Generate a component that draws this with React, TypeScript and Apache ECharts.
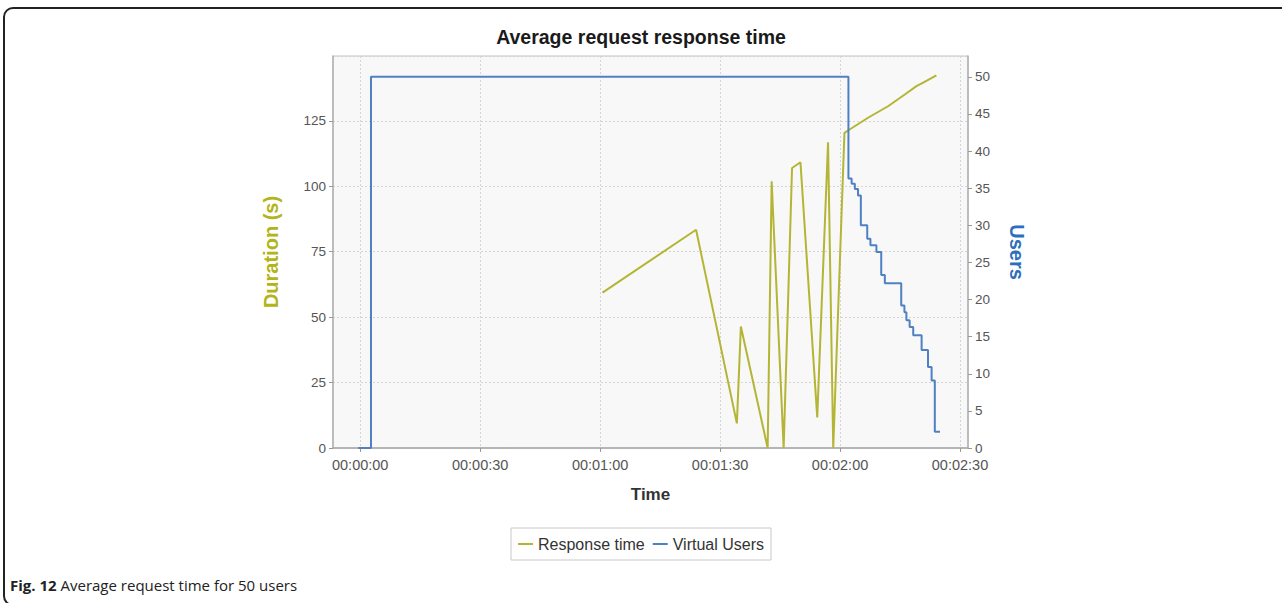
import React, { useEffect, useRef } from "react";
import * as echarts from "echarts";

// X tick positions (seconds since start)
const xTickSeconds = [0, 30, 60, 90, 120, 150];

// Response time series (time in s, duration in s)
const responseTimes = [60.6, 84.0, 94.2, 95.2, 101.9, 102.9, 105.9, 108.0, 110.1, 114.3, 117.0, 118.3, 121.1, 122.4, 127.0, 132.0, 136.2, 139.1, 140.8, 144.1];
const responseValues = [59.4, 83.4, 9.4, 46.4, 0, 101.9, 0, 107.0, 109.2, 11.7, 116.8, 0, 120.4, 121.7, 126.2, 130.6, 135.1, 138.3, 139.6, 142.4];

// Virtual users series (time of change in s, users)
const userTimes = [-0.5, 2.7, 122.1, 122.9, 123.7, 124.5, 125.2, 126.8, 127.6, 129.1, 130.3, 131.2, 135.3, 136.1, 136.6, 137.4, 138.3, 140.4, 142.0, 142.9, 143.7, 145.0];
const userValues = [0, 50, 36.3, 35.6, 34.9, 34.0, 30.0, 28.2, 27.3, 26.4, 23.3, 22.2, 19.2, 18.3, 17.2, 16.3, 15.2, 13.2, 10.9, 9.1, 2.2, 2.2];

const titleText = "Average request response time";
const captionBold = "Fig. 12";
const captionRest = " Average request time for 50 users";

const YELLOW = "#b4b535";
const BLUE = "#4f80c4";
const FONT = "Liberation Sans, Arial, sans-serif";

function pad(n: number) {
  return n < 10 ? "0" + n : String(n);
}
function fmtTime(v: number) {
  const s = Math.round(v);
  const m = Math.floor(s / 60);
  return "00:" + pad(m) + ":" + pad(s % 60);
}

export default function App() {
  const ref = useRef<HTMLDivElement | null>(null);

  useEffect(() => {
    document.body.style.margin = "0";
    document.body.style.overflow = "hidden";
    if (!ref.current) return;
    const chart = echarts.init(ref.current, null, { renderer: "svg" });
    const option: any = {
      animation: false,
      backgroundColor: "#ffffff",
      title: {
        text: titleText,
        left: "center",
        top: 27,
        padding: 0,
        textStyle: { fontSize: 19.5, fontWeight: "bold", color: "#1a1a1a", fontFamily: FONT },
      },
      legend: {
        left: "center",
        top: 528,
        data: [
          { name: "Response time", icon: "rect" },
          { name: "Virtual Users", icon: "rect" },
        ],
        itemWidth: 15,
        itemHeight: 2,
        itemGap: 8,
        padding: [8, 7],
        borderColor: "#c8c8c8",
        borderWidth: 1,
        backgroundColor: "#ffffff",
        textStyle: { fontSize: 16, color: "#333", fontFamily: FONT },
      },
      grid: {
        left: 333,
        right: 314,
        top: 56,
        bottom: 155,
        show: true,
        backgroundColor: "#f8f8f8",
        borderColor: "#c4c4c4",
        borderWidth: 1,
        outerBoundsMode: "none",
        containLabel: false,
      },
      xAxis: {
        type: "value",
        min: -6.8,
        max: 152,
        name: "Time",
        nameLocation: "middle",
        nameGap: 38,
        nameTextStyle: { fontSize: 17, fontWeight: "bold", color: "#333", fontFamily: FONT },
        axisLine: { show: true, onZero: false, lineStyle: { color: "#a8a8a8", width: 1.5 } },
        axisTick: { show: true, customValues: xTickSeconds, length: 4, lineStyle: { color: "#999" } },
        axisLabel: {
          customValues: xTickSeconds,
          formatter: (v: number) => fmtTime(v),
          color: "#555",
          fontSize: 14.5,
          margin: 9,
          fontFamily: FONT,
        },
        splitLine: { show: true, lineStyle: { color: "#d4d4d4", type: [2, 2] } },
      },
      yAxis: [
        {
          type: "value",
          position: "left",
          min: 0,
          max: 149.8,
          interval: 25,
          name: "Duration (s)",
          nameLocation: "middle",
          nameGap: 52,
          nameTextStyle: { fontSize: 20, fontWeight: "bold", color: "#b2b418", fontFamily: FONT },
          axisLine: { show: true, onZero: false, lineStyle: { color: "#b0b0b0", width: 1.5 } },
          axisTick: { show: true, length: 4, lineStyle: { color: "#999" } },
          axisLabel: { color: "#555", fontSize: 13.5, margin: 7, showMaxLabel: false, fontFamily: FONT },
          splitLine: { show: true, lineStyle: { color: "#d4d4d4", type: [2, 2] } },
        },
        {
          type: "value",
          position: "right",
          min: 0,
          max: 52.8,
          interval: 5,
          name: "Users",
          nameLocation: "middle",
          nameRotate: -90,
          nameGap: 39,
          nameTextStyle: { fontSize: 20, fontWeight: "bold", color: "#2e6fbd", fontFamily: FONT },
          axisLine: { show: true, onZero: false, lineStyle: { color: "#b0b0b0", width: 1.5 } },
          axisTick: { show: true, length: 4, lineStyle: { color: "#999" } },
          axisLabel: { color: "#555", fontSize: 13.5, margin: 7, showMaxLabel: false, fontFamily: FONT },
          splitLine: { show: false },
        },
      ],
      series: [
        {
          name: "Response time",
          type: "line",
          yAxisIndex: 0,
          symbol: "none",
          data: responseTimes.map((t, i) => [t, responseValues[i]]),
          lineStyle: { color: YELLOW, width: 2 },
          itemStyle: { color: YELLOW },
        },
        {
          name: "Virtual Users",
          type: "line",
          yAxisIndex: 1,
          symbol: "none",
          step: "end",
          data: userTimes.map((t, i) => [t, userValues[i]]),
          lineStyle: { color: BLUE, width: 2 },
          itemStyle: { color: BLUE },
        },
      ],
      graphic: [
        {
          type: "rect",
          shape: { x: 4, y: 8, width: 1400, height: 597, r: 9 },
          style: { fill: "none", stroke: "#222", lineWidth: 2 },
          silent: true,
        },
        {
          type: "text",
          x: 10,
          y: 585,
          style: {
            text: "{b|" + captionBold + "}" + captionRest,
            fontSize: 15,
            fontFamily: "Open Sans, Noto Sans, sans-serif",
            fill: "#222",
            verticalAlign: "middle",
            rich: {
              b: { fontWeight: "bold", fontSize: 15, fontFamily: "Open Sans, Noto Sans, sans-serif", fill: "#222" },
            },
          },
        },
      ],
    };
    chart.setOption(option);
    return () => {
      chart.dispose();
    };
  }, []);

  return <div ref={ref} style={{ width: 1282, height: 603 }} />;
}
